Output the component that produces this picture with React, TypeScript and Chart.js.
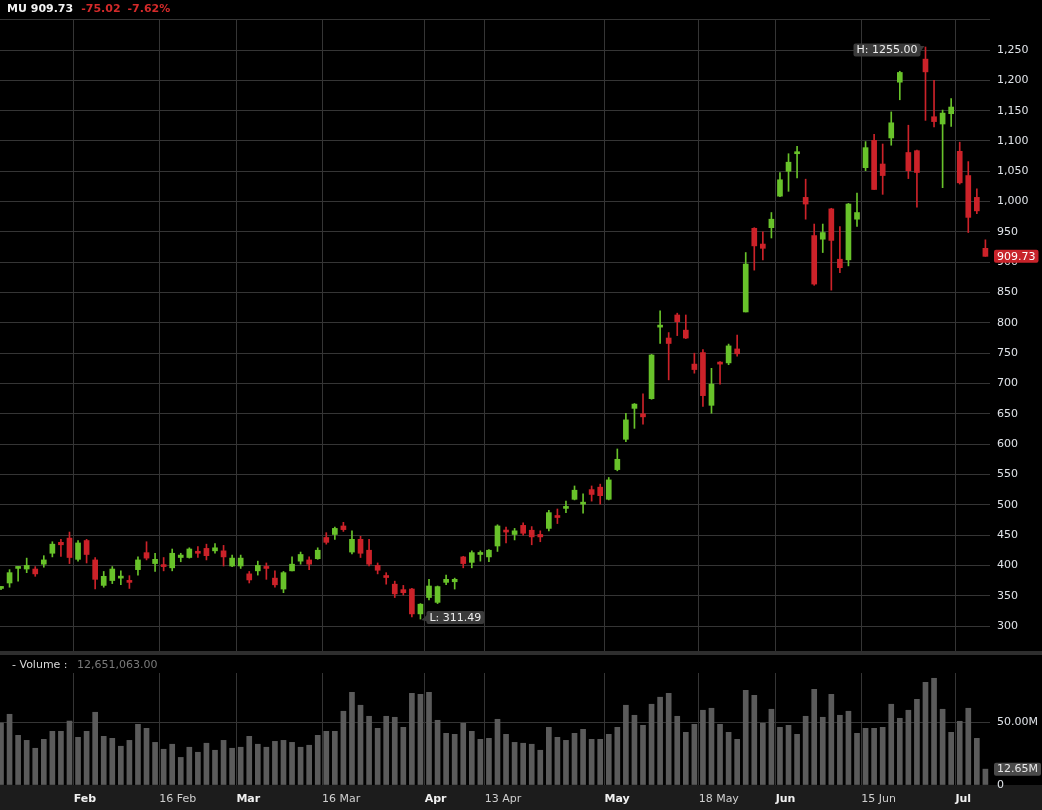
import React, { useEffect, useRef } from 'react';
import { Chart, registerables } from 'chart.js';

Chart.register(...registerables);

const symbol = 'MU';
const prevClose = 984.75;

const dates = [
  '2026-01-20', '2026-01-21', '2026-01-22', '2026-01-23', '2026-01-26', '2026-01-27', '2026-01-28', '2026-01-29', '2026-01-30',
  '2026-02-02', '2026-02-03', '2026-02-04', '2026-02-05', '2026-02-06', '2026-02-09', '2026-02-10', '2026-02-11', '2026-02-12', '2026-02-13',
  '2026-02-17', '2026-02-18', '2026-02-19', '2026-02-20', '2026-02-23', '2026-02-24', '2026-02-25', '2026-02-26', '2026-02-27',
  '2026-03-02', '2026-03-03', '2026-03-04', '2026-03-05', '2026-03-06', '2026-03-09', '2026-03-10', '2026-03-11', '2026-03-12', '2026-03-13',
  '2026-03-16', '2026-03-17', '2026-03-18', '2026-03-19', '2026-03-20', '2026-03-23', '2026-03-24', '2026-03-25', '2026-03-26', '2026-03-27',
  '2026-03-30', '2026-03-31',
  '2026-04-01', '2026-04-02', '2026-04-06', '2026-04-07', '2026-04-08', '2026-04-09', '2026-04-10', '2026-04-13', '2026-04-14', '2026-04-15',
  '2026-04-16', '2026-04-17', '2026-04-20', '2026-04-21', '2026-04-22', '2026-04-23', '2026-04-24', '2026-04-27', '2026-04-28', '2026-04-29',
  '2026-04-30',
  '2026-05-01', '2026-05-04', '2026-05-05', '2026-05-06', '2026-05-07', '2026-05-08', '2026-05-11', '2026-05-12', '2026-05-13', '2026-05-14',
  '2026-05-15', '2026-05-18', '2026-05-19', '2026-05-20', '2026-05-21', '2026-05-22', '2026-05-26', '2026-05-27', '2026-05-28', '2026-05-29',
  '2026-06-01', '2026-06-02', '2026-06-03', '2026-06-04', '2026-06-05', '2026-06-08', '2026-06-09', '2026-06-10', '2026-06-11', '2026-06-12',
  '2026-06-15', '2026-06-16', '2026-06-17', '2026-06-18', '2026-06-22', '2026-06-23', '2026-06-24', '2026-06-25', '2026-06-26', '2026-06-29',
  '2026-06-30',
  '2026-07-01', '2026-07-02', '2026-07-06', '2026-07-07',
];

const opens = [
  362, 371, 395, 394, 394, 402, 420, 438, 445, 410,
  441, 409, 367, 375, 379, 375, 393, 421, 403, 400,
  396, 413, 413, 422, 428, 424, 424, 399, 399, 386,
  391, 398, 379, 361, 391, 407, 409, 411, 446, 451,
  465, 422, 443, 425, 400, 382, 369, 360, 361, 320,
  347, 339, 372, 373, 414, 405, 418, 414, 432, 458,
  451, 466, 458, 451, 461, 481, 494, 509, 501, 525,
  529, 509, 558, 608, 659, 650, 675, 793, 775, 813,
  788, 732, 751, 664, 735, 734, 757, 818, 956, 930,
  957, 1009, 1050, 1079, 1007, 944, 938, 988, 905, 904,
  971, 1056, 1101, 1062, 1105, 1197, 1081, 1084, 1235, 1140,
  1128, 1145, 1083, 1043, 1007, 923,
];

const highs = [
  365, 393, 398, 412, 398, 416, 439, 443, 455, 441,
  443, 413, 390, 398, 391, 383, 414, 439, 420, 413,
  427, 420, 429, 431, 435, 436, 433, 417, 417, 390,
  407, 404, 391, 390, 414, 422, 414, 429, 454, 463,
  471, 457, 448, 443, 404, 388, 374, 367, 362, 337,
  377, 366, 384, 379, 415, 424, 424, 426, 467, 463,
  461, 470, 464, 457, 491, 493, 506, 531, 518, 531,
  534, 545, 592, 651, 667, 683, 748, 820, 784, 816,
  813, 750, 756, 725, 736, 765, 780, 916, 957, 950,
  982, 1048, 1079, 1091, 1037, 963, 963, 989, 959, 997,
  1014, 1099, 1111, 1095, 1148, 1215, 1126, 1085, 1255, 1200,
  1151, 1170, 1098, 1066, 1021, 937,
];

const lows = [
  360, 364, 374, 388, 382, 397, 414, 415, 403, 407,
  404, 361, 364, 370, 368, 362, 384, 409, 390, 391,
  391, 406, 412, 413, 409, 420, 399, 398, 395, 371,
  384, 377, 364, 355, 391, 402, 393, 410, 435, 443,
  456, 419, 413, 399, 386, 369, 347, 351, 315, 311.49,
  343, 337, 368, 361, 396, 396, 407, 406, 423, 437,
  442, 450, 434, 439, 457, 469, 487, 508, 486, 506,
  501, 508, 556, 604, 626, 633, 674, 766, 706, 779,
  774, 717, 662, 651, 699, 731, 745, 818, 887, 904,
  940, 1008, 1017, 1039, 971, 862, 916, 854, 883, 894,
  959, 1051, 1020, 1012, 1093, 1168, 1038, 991, 1134, 1123,
  1023, 1124, 1029, 949, 980, 909.73,
];

const closes = [
  364, 388, 397, 400, 386, 409, 435, 434, 413, 437,
  418, 377, 382, 394, 382, 372, 409, 412, 410, 398,
  420, 417, 427, 420, 416, 429, 414, 412, 412, 376,
  400, 395, 368, 388, 402, 418, 402, 425, 438, 461,
  459, 443, 420, 402, 392, 380, 353, 355, 320, 336,
  366, 365, 377, 377, 403, 421, 421, 425, 465, 455,
  457, 453, 447, 447, 487, 479, 496, 524, 503, 517,
  515, 541, 575, 640, 666, 645, 747, 795, 766, 802,
  775, 723, 680, 699, 732, 762, 749, 897, 927, 923,
  971, 1036, 1065, 1081, 996, 864, 949, 936, 891, 996,
  982, 1089, 1020, 1043, 1130, 1213, 1051, 1048, 1214, 1132,
  1146, 1156, 1031, 974, 984.75, 909.73,
];

// volume in millions of shares
const volumes = [
  49.4, 56.4, 39.6, 35.6, 29.3, 36.4, 42.8, 42.8, 51.0, 38.0,
  42.8, 58.0, 38.8, 37.2, 30.9, 35.6, 48.4, 45.2, 34.0, 28.5,
  32.5, 22.0, 30.1, 26.1, 33.3, 27.7, 35.6, 29.3, 30.1, 38.8,
  32.5, 30.1, 34.8, 35.6, 34.0, 30.1, 31.7, 39.6, 42.8, 42.8,
  58.8, 73.9, 63.6, 54.8, 45.2, 54.8, 54.0, 46.0, 73.1, 72.3,
  73.9, 51.6, 41.2, 40.4, 49.2, 42.8, 36.4, 37.2, 52.4, 40.4,
  34.0, 33.3, 32.5, 27.7, 46.0, 38.0, 35.6, 41.2, 44.4, 36.4,
  36.4, 40.4, 46.0, 63.6, 55.6, 47.6, 64.4, 70.0, 73.1, 54.8,
  42.0, 48.4, 59.6, 61.2, 48.4, 42.0, 36.4, 75.5, 71.5, 49.2,
  60.4, 46.0, 47.6, 40.4, 54.8, 76.3, 54.0, 72.3, 55.6, 58.8,
  41.2, 45.2, 45.2, 46.0, 64.4, 53.2, 59.6, 68.3, 81.9, 85.1,
  60.4, 42.0, 50.8, 61.2, 37.2, 12.651063,
];

const tickDates = ['2026-02-01', '2026-02-16', '2026-03-01', '2026-03-16', '2026-04-01', '2026-04-13', '2026-05-01', '2026-05-18', '2026-06-01', '2026-06-15', '2026-07-01'];
const tickTexts = ['Feb', '16 Feb', 'Mar', '16 Mar', 'Apr', '13 Apr', 'May', '18 May', 'Jun', '15 Jun', 'Jul'];
const tickMajor = [true, false, true, false, true, false, true, false, true, false, true];
const priceTicks = [300, 350, 400, 450, 500, 550, 600, 650, 700, 750, 800, 850, 900, 950, 1000, 1050, 1100, 1150, 1200, 1250, 1300];
const volumeTicks = [0, 50];

const GREEN = '#68c22a';
const RED = '#cc2229';
const FONT = '"DejaVu Sans", Verdana, sans-serif';

const tickBoundaries = tickDates.map((d) => dates.findIndex((x) => x >= d) - 0.5);

function roundRect(ctx: CanvasRenderingContext2D, x: number, y: number, w: number, h: number, r: number) {
  ctx.beginPath();
  ctx.moveTo(x + r, y);
  ctx.lineTo(x + w - r, y);
  ctx.quadraticCurveTo(x + w, y, x + w, y + r);
  ctx.lineTo(x + w, y + h - r);
  ctx.quadraticCurveTo(x + w, y + h, x + w - r, y + h);
  ctx.lineTo(x + r, y + h);
  ctx.quadraticCurveTo(x, y + h, x, y + h - r);
  ctx.lineTo(x, y + r);
  ctx.quadraticCurveTo(x, y, x + r, y);
  ctx.closePath();
}

const paneDecor = {
  id: 'paneDecor',
  beforeDraw(chart: any) {
    const { ctx, width, height } = chart;
    const xs = chart.scales.x;
    ctx.save();
    ctx.fillStyle = '#000';
    ctx.fillRect(0, 0, width, height);
    ctx.fillStyle = '#1c1c1c';
    ctx.fillRect(0, xs.top, width, height - xs.top);
    ctx.restore();
  },
  beforeDatasetsDraw(chart: any) {
    const { ctx, width, chartArea } = chart;
    const yv = chart.scales.yVol;
    ctx.save();
    ctx.fillStyle = '#000';
    ctx.fillRect(0, yv.top + 4, chartArea.right, 18);
    ctx.fillStyle = '#2e2e2e';
    ctx.fillRect(0, yv.top, width, 4);
    ctx.restore();
  },
  afterDraw(chart: any) {
    const { ctx, chartArea } = chart;
    const xs = chart.scales.x;
    const ys = chart.scales.y;
    const yv = chart.scales.yVol;
    ctx.save();
    ctx.font = `11px ${FONT}`;
    ctx.textBaseline = 'middle';

    let hiIdx = 0;
    let loIdx = 0;
    highs.forEach((h, i) => { if (h > highs[hiIdx]) hiIdx = i; });
    lows.forEach((l, i) => { if (l < lows[loIdx]) loIdx = i; });
    {
      const text = 'H: ' + highs[hiIdx].toFixed(2);
      const px = xs.getPixelForValue(hiIdx);
      const py = ys.getPixelForValue(highs[hiIdx]);
      const w = ctx.measureText(text).width + 6;
      const h = 13;
      const cy = py + 3;
      const right = px - 5;
      ctx.fillStyle = '#3a3a3a';
      roundRect(ctx, right - w, cy - h / 2, w, h, 2);
      ctx.fill();
      ctx.beginPath();
      ctx.moveTo(right - 1, cy - 4);
      ctx.lineTo(px - 1, py - 1);
      ctx.lineTo(right - 1, cy + 3);
      ctx.closePath();
      ctx.fill();
      ctx.fillStyle = '#eeeeee';
      ctx.textAlign = 'left';
      ctx.fillText(text, right - w + 3, cy + 0.5);
    }
    {
      const text = 'L: ' + lows[loIdx].toFixed(2);
      const px = xs.getPixelForValue(loIdx);
      const py = ys.getPixelForValue(lows[loIdx]);
      const w = ctx.measureText(text).width + 6;
      const h = 13;
      const cy = py - 1.5;
      const left = px + 6;
      ctx.fillStyle = '#3a3a3a';
      roundRect(ctx, left, cy - h / 2, w, h, 2);
      ctx.fill();
      ctx.beginPath();
      ctx.moveTo(left + 1, cy - 3);
      ctx.lineTo(px + 1, py + 1);
      ctx.lineTo(left + 1, cy + 4);
      ctx.closePath();
      ctx.fill();
      ctx.fillStyle = '#eeeeee';
      ctx.textAlign = 'left';
      ctx.fillText(text, left + 3, cy + 0.5);
    }

    const last = closes.length - 1;
    {
      const text = closes[last].toFixed(2);
      const cy = ys.getPixelForValue(closes[last]);
      const w = ctx.measureText(text).width + 6;
      ctx.fillStyle = '#c8232a';
      roundRect(ctx, chartArea.right + 4, cy - 6.5, w, 13, 2);
      ctx.fill();
      ctx.fillStyle = '#ffffff';
      ctx.textAlign = 'left';
      ctx.fillText(text, chartArea.right + 7, cy + 0.5);
    }
    {
      const text = volumes[last].toFixed(2) + 'M';
      const cy = yv.getPixelForValue(volumes[last]);
      const w = ctx.measureText(text).width + 6;
      ctx.fillStyle = '#4a4a4a';
      roundRect(ctx, chartArea.right + 4, cy - 6.5, w, 13, 2);
      ctx.fill();
      ctx.fillStyle = '#e8e8e8';
      ctx.textAlign = 'left';
      ctx.fillText(text, chartArea.right + 7, cy + 0.5);
    }
    ctx.restore();
  },
};

export default function App() {
  const canvasRef = useRef<HTMLCanvasElement | null>(null);

  useEffect(() => {
    if (!canvasRef.current) return;
    Chart.defaults.font.family = FONT;
    const bodyColors = closes.map((c, i) => (c >= opens[i] ? GREEN : RED));
    const chart = new Chart(canvasRef.current, {
      type: 'bar',
      data: {
        datasets: [
          {
            label: 'body',
            data: dates.map((_, i) => ({ x: i, y: [opens[i], closes[i]] })) as any,
            backgroundColor: bodyColors,
            barThickness: 5,
            minBarLength: 2,
            grouped: false,
            borderWidth: 0,
            yAxisID: 'y',
          } as any,
          {
            label: 'wick',
            data: dates.map((_, i) => ({ x: i, y: [lows[i], highs[i]] })) as any,
            backgroundColor: bodyColors,
            barThickness: 1,
            grouped: false,
            borderWidth: 0,
            yAxisID: 'y',
          } as any,
          {
            label: 'volume',
            data: dates.map((_, i) => ({ x: i, y: volumes[i] })) as any,
            backgroundColor: '#5b5b5b',
            barThickness: 5,
            grouped: false,
            borderWidth: 0,
            yAxisID: 'yVol',
          } as any,
        ],
      },
      options: {
        responsive: false,
        animation: false,
        devicePixelRatio: 1,
        layout: { padding: { top: 19, left: 0, right: 0, bottom: 0 } },
        plugins: { legend: { display: false }, tooltip: { enabled: false } },
        scales: {
          x: {
            type: 'linear',
            min: -0.117,
            max: 115.537,
            offset: false,
            afterBuildTicks: (s: any) => { s.ticks = tickBoundaries.map((v) => ({ value: v })); },
            afterFit: (s: any) => { s.height = 25; },
            grid: { color: '#353535', drawTicks: false, offset: false },
            border: { display: false },
            ticks: {
              autoSkip: false,
              maxRotation: 0,
              align: 'start',
              padding: 8,
              callback: (_v: any, i: number) => tickTexts[i],
              color: (c: any) => (tickMajor[c.index] ? '#f0f0f0' : '#cfcfcf'),
              font: (c: any) => ({ family: FONT, size: 11, weight: tickMajor[c.index] ? 'bold' : 'normal' }),
            },
          } as any,
          y: {
            type: 'linear',
            position: 'right',
            stack: 'panes',
            stackWeight: 632,
            min: 258.8,
            max: 1301.2,
            afterBuildTicks: (s: any) => { s.ticks = priceTicks.map((v) => ({ value: v })); },
            afterFit: (s: any) => { s.width = 52; },
            grid: { color: '#353535', drawTicks: false },
            border: { display: false },
            ticks: {
              autoSkip: false,
              padding: 7,
              color: '#dfe3e8',
              font: { family: FONT, size: 11 },
              callback: (v: any) => (Number(v) >= 1300 ? '' : Number(v).toLocaleString('en-US')),
            },
          } as any,
          yVol: {
            type: 'linear',
            position: 'right',
            stack: 'panes',
            stackWeight: 134,
            min: 0,
            max: 106.86,
            afterBuildTicks: (s: any) => { s.ticks = volumeTicks.map((v) => ({ value: v })); },
            afterFit: (s: any) => { s.width = 52; },
            grid: { color: (c: any) => (c.tick && c.tick.value > 0 ? '#353535' : 'rgba(0,0,0,0)'), drawTicks: false },
            border: { display: false },
            ticks: {
              autoSkip: false,
              padding: 7,
              color: '#dfe3e8',
              font: { family: FONT, size: 11 },
              callback: (v: any) => (Number(v) === 0 ? '0' : Number(v).toFixed(2) + 'M'),
            },
          } as any,
        },
      },
      plugins: [paneDecor],
    });
    return () => chart.destroy();
  }, []);

  const last = closes[closes.length - 1];
  const change = last - prevClose;
  const pct = (change / prevClose) * 100;
  const lastVolume = (volumes[volumes.length - 1] * 1e6).toLocaleString('en-US', { minimumFractionDigits: 2, maximumFractionDigits: 2 });

  return (
    <div style={{ position: 'fixed', left: 0, top: 0, width: 1042, height: 810, background: '#000', overflow: 'hidden' }}>
      <canvas ref={canvasRef} width={1042} height={810} style={{ display: 'block', width: 1042, height: 810 }} />
      <div style={{ position: 'absolute', left: 7, top: 2, font: `bold 11px ${FONT}`, lineHeight: '14px', whiteSpace: 'nowrap' }}>
        <span style={{ color: '#f2f2f2' }}>{symbol} {last.toFixed(2)}</span>
        <span style={{ color: '#d42a2a', marginLeft: 8 }}>{change.toFixed(2)}</span>
        <span style={{ color: '#d42a2a', marginLeft: 7 }}>{pct.toFixed(2)}%</span>
      </div>
      <div style={{ position: 'absolute', left: 12, top: 658, font: `11px ${FONT}`, lineHeight: '14px', whiteSpace: 'nowrap' }}>
        <span style={{ color: '#d8d8d8' }}>- Volume : </span>
        <span style={{ color: '#7a7a7a', marginLeft: 6 }}>{lastVolume}</span>
      </div>
    </div>
  );
}
